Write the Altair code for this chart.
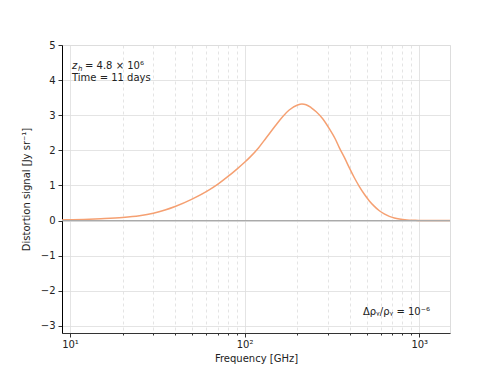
import altair as alt
import pandas as pd

# Curve
freq = [9, 10, 12, 15, 20, 25, 30, 35, 40, 50, 63, 70, 80, 90, 100, 107, 120, 133, 150, 165, 180, 201, 213, 225, 240, 257, 280, 306, 330, 349, 375, 398, 425, 454, 485, 518, 550, 591, 630, 674, 720, 769, 850, 950, 1100, 1500]
signal = [0.02, 0.025, 0.035, 0.055, 0.09, 0.14, 0.21, 0.30, 0.40, 0.61, 0.88, 1.03, 1.25, 1.46, 1.66, 1.80, 2.07, 2.36, 2.70, 2.96, 3.15, 3.29, 3.32, 3.30, 3.22, 3.10, 2.90, 2.61, 2.33, 2.07, 1.77, 1.50, 1.22, 0.97, 0.75, 0.56, 0.42, 0.28, 0.19, 0.12, 0.075, 0.045, 0.02, 0.01, 0.0, 0.0]

major_ticks = [10, 100, 1000]
minor_ticks = [20, 30, 40, 50, 60, 70, 80, 90, 200, 300, 400, 500, 600, 700, 800, 900]
y_ticks = [-3, -2, -1, 0, 1, 2, 3, 4, 5]

label_z = "z"
label_h = "h"
label_top1 = "= 4.8 × 10⁶"
label_top2 = "Time = 11 days"
label_bottom = "Δρᵧ/ρᵧ = 10⁻⁶"

df = pd.DataFrame({"freq": freq, "signal": signal})
all_ticks = sorted(major_ticks + minor_ticks)
major_test = "datum.value == 10 || datum.value == 100 || datum.value == 1000"

xscale = alt.Scale(type="log", domain=[9, 1500], nice=False)
yscale = alt.Scale(domain=[-3.2, 5], nice=False, zero=False)

FONT = "DejaVu Sans"
TXT = "#222222"

y_axis = alt.Axis(values=y_ticks, title="Distortion signal  [Jy sr⁻¹]",
                  gridColor="#dddddd", gridWidth=0.8,
                  domainColor="#000000", tickColor="#333333", tickSize=4,
                  labelFont=FONT, labelFontSize=10, labelColor=TXT,
                  titleFont=FONT, titleFontSize=10, titleFontWeight="normal",
                  titleColor=TXT, labelPadding=3, titlePadding=9)

line = alt.Chart(df).mark_line(color="#f5a072", strokeWidth=1.5, clip=True,
                               interpolate="monotone").encode(
    x=alt.X("freq:Q", scale=xscale,
            axis=alt.Axis(values=all_ticks, title="Frequency [GHz]",
                          labelExpr="datum.value == 10 ? '10¹' : datum.value == 100 ? '10²' : datum.value == 1000 ? '10³' : ''",
                          tickSize={"condition": {"test": major_test, "value": 4}, "value": 2},
                          gridDash={"condition": {"test": major_test, "value": []}, "value": [3, 3]},
                          gridColor="#dddddd", gridWidth=0.8,
                          domainColor="#333333", tickColor="#333333",
                          labelFont=FONT, labelFontSize=10, labelColor=TXT,
                          titleFont=FONT, titleFontSize=10, titleFontWeight="normal",
                          titleColor=TXT, labelPadding=2, titlePadding=4,
                          labelFlush=False)),
    y=alt.Y("signal:Q", scale=yscale, axis=y_axis),
)

zero_df = pd.DataFrame({"y": [0]})
zero = alt.Chart(zero_df).mark_rule(color="#aaaaaa", strokeWidth=1.2).encode(
    y=alt.Y("y:Q", scale=yscale, axis=y_axis)
)


def txt(s, x, y, align="left", size=10, style="normal"):
    return alt.Chart(pd.DataFrame({"t": [s]})).mark_text(
        align=align, baseline="middle", font=FONT, fontSize=size,
        fontStyle=style, color=TXT
    ).encode(x=alt.value(x), y=alt.value(y), text="t:N")


t_z = txt(label_z, 10, 21, style="italic")
t_h = txt(label_h, 16, 24, size=7, style="italic")
t1 = txt(label_top1, 23, 21)
t2 = txt(label_top2, 10, 33)
t3 = txt(label_bottom, 368, 267, align="right")

chart = alt.layer(line, zero, t_z, t_h, t1, t2, t3).properties(
    width=388, height=288,
    autosize=alt.AutoSizeParams(type="none"),
    padding={"left": 62, "top": 45, "right": 50, "bottom": 42},
).configure_view(stroke="#999999", strokeWidth=1).configure(background="white")

chart.save("out.html", embed_options={"renderer": "svg", "actions": False})
